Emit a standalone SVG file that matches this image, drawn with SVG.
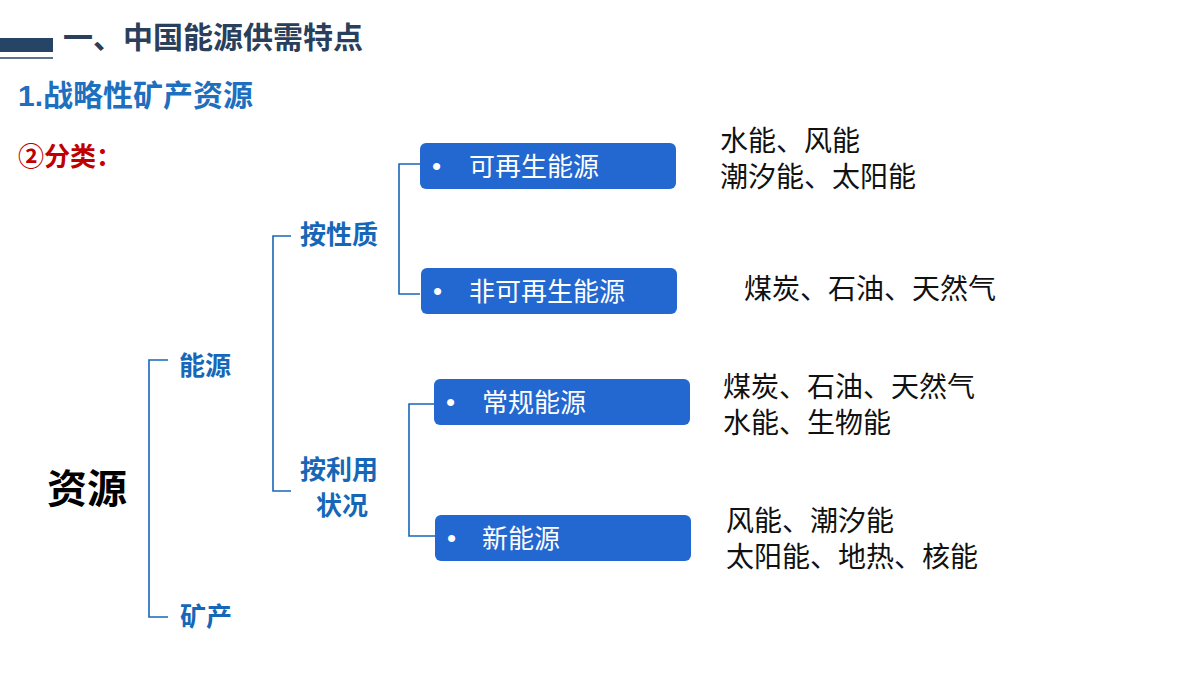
<svg xmlns="http://www.w3.org/2000/svg" width="1200" height="675" viewBox="0 0 1200 675">
<style>
text{font-family:"Liberation Sans","Noto Sans CJK SC",sans-serif}
.lbl{fill:#1767b8;font-weight:bold;font-size:26px}
.box{fill:#2368d1}
.bt{fill:#fff;font-size:26px}
.ex{fill:#111;font-size:28px}
.ln{fill:none;stroke:#1767b8;stroke-width:1.6}
</style>
<rect width="1200" height="675" fill="#fff"/>
<rect x="0" y="38" width="53" height="14" fill="#264466"/>
<line x1="0" y1="58" x2="53" y2="58" stroke="#264466" stroke-width="1.5"/>
<text x="63" y="48" font-size="30" font-weight="bold" fill="#2a3f5c">一、中国能源供需特点</text>
<text x="18" y="106" font-size="30" font-weight="bold" fill="#1f6fbf">1.战略性矿产资源</text>
<text x="18" y="166" font-size="26" font-weight="bold" fill="#c00000">②分类：</text>
<g id="connectors">
<path class="ln" d="M168,360H149V617H168"/>
<path class="ln" d="M291,236H273V491H291"/>
<path class="ln" d="M420,164H399V294H420"/>
<path class="ln" d="M435,404H409V536H435"/>
</g>
<g id="n-ziyuan"><text x="47" y="503" font-size="40" font-weight="bold" fill="#000">资源</text></g>
<g id="n-nengyuan"><text class="lbl" x="179" y="375">能源</text></g>
<g id="n-kuangchan"><text class="lbl" x="180" y="626">矿产</text></g>
<g id="n-xingzhi"><text class="lbl" x="300" y="244">按性质</text></g>
<g id="n-liyong"><text class="lbl" x="300" y="479">按利用</text><text class="lbl" x="316" y="515">状况</text></g>
<g id="n-b1"><rect class="box" x="420" y="143" width="256" height="46" rx="6"/><text class="bt" x="432" y="175">•</text><text class="bt" x="469" y="176">可再生能源</text></g>
<g id="n-b2"><rect class="box" x="421" y="268" width="256" height="46" rx="6"/><text class="bt" x="433" y="300">•</text><text class="bt" x="469" y="301">非可再生能源</text></g>
<g id="n-b3"><rect class="box" x="434" y="379" width="256" height="46" rx="6"/><text class="bt" x="446" y="411">•</text><text class="bt" x="482" y="412">常规能源</text></g>
<g id="n-b4"><rect class="box" x="435" y="515" width="256" height="46" rx="6"/><text class="bt" x="447" y="547">•</text><text class="bt" x="482" y="548">新能源</text></g>
<g id="examples">
<text class="ex" x="720" y="151">水能、风能</text>
<text class="ex" x="720" y="187">潮汐能、太阳能</text>
<text class="ex" x="744" y="299">煤炭、石油、天然气</text>
<text class="ex" x="723" y="397">煤炭、石油、天然气</text>
<text class="ex" x="723" y="433">水能、生物能</text>
<text class="ex" x="726" y="531">风能、潮汐能</text>
<text class="ex" x="726" y="567">太阳能、地热、核能</text>
</g>
</svg>
